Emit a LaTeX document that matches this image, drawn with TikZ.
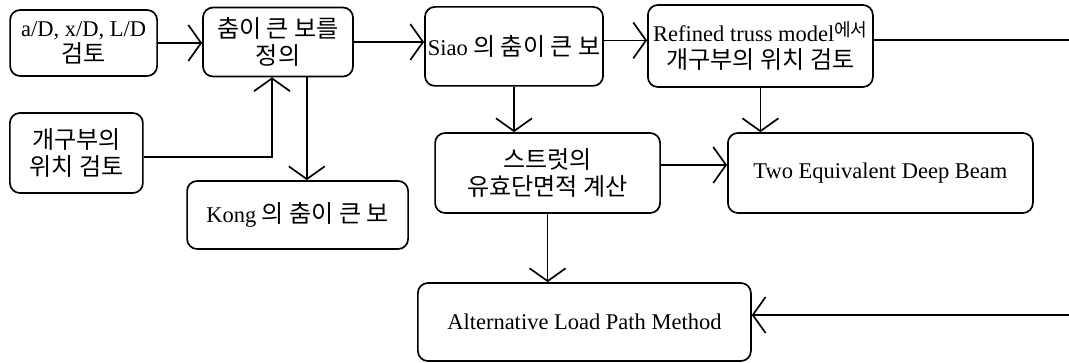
\documentclass[tikz,border=0pt]{standalone}
\usepackage{fontspec}
\setmainfont{Liberation Serif}
\newfontfamily\kr[Scale=1.07]{Noto Sans CJK KR}
\usetikzlibrary{positioning,arrows.meta,calc}
\tikzset{
    stage/.style = {
        draw,
        shape=rectangle,
        rounded corners=0.25cm,
        line width=1.2pt,
        align=center,
        inner sep=2pt,
        font=\fontsize{16}{19}\selectfont
    },
    flow/.style = {
        draw,
        line width=1pt,
        -{Straight Barb[length=3.2mm,width=9mm,line width=1.2pt]}
    },
}

\begin{document}
\begin{tikzpicture}
            \useasboundingbox (0,0) rectangle (26.725,9.05);

            \node[stage, minimum width=3.675cm, minimum height=1.65cm] (ratio) at (2.09,7.975) {a/D, x/D, L/D\\{\kr 검토}};
            \node[stage, minimum width=3.75cm, minimum height=1.725cm] (define) at (6.95,8.0) {{\kr 춤이 큰 보를}\\{\kr 정의}};
            \node[stage, minimum width=3.325cm, minimum height=2cm] (opening) at (1.91,5.225) {{\kr 개구부의}\\{\kr 위치 검토}};
            \node[stage, minimum width=5.525cm, minimum height=1.7cm] (kong) at (7.44,3.675) {Kong {\kr 의 춤이 큰 보}};
            \node[stage, minimum width=3.95cm, minimum height=1.975cm] (siao) at (12.85,7.89) {Siao {\kr 의 춤이 큰 보}};
            \node[stage, minimum width=5.625cm, minimum height=2.05cm] (truss) at (19.01,7.9) {Refined truss model\raisebox{.45ex}{\kr\fontsize{12}{14}\selectfont 에서}\\{\kr 개구부의 위치 검토}};
            \node[stage, minimum width=5.625cm, minimum height=2cm] (strut) at (13.69,4.725) {{\kr 스트럿의}\\{\kr 유효단면적 계산}};
            \node[stage, minimum width=7.625cm, minimum height=2cm] (twobeam) at (22.01,4.725) {Two Equivalent Deep Beam};
            \node[stage, minimum width=8.325cm, minimum height=1.95cm] (altpath) at (14.61,1.0) {Alternative Load Path Method};

            \coordinate (edgetop) at (26.725,8.05);
            \coordinate (edgelow) at (26.725,1.175);

            \path[flow] (ratio.east) -- (ratio.east -| define.west);
            \path[flow] (define.east) -- (define.east -| siao.west);
            \path[flow] ([yshift=0.15cm]siao.east) -- ([yshift=0.15cm]siao.east -| truss.west);
            \path[draw, line width=1pt] (truss.east |- edgetop) -- (edgetop);

            \path[flow] ([yshift=-0.1cm]opening.east) -| ([xshift=-0.15cm]define.south);
            \path[flow] ([xshift=0.72cm]define.south) -- ([xshift=0.72cm]define.south |- kong.north);

            \path[flow] (siao.south) -- (siao.south |- strut.north);
            \path[flow] (truss.south) -- (truss.south |- twobeam.north);
            \path[flow] ([yshift=0.2cm]strut.east) -- ([yshift=0.2cm]strut.east -| twobeam.west);
            \path[flow] (strut.south) -- (strut.south |- altpath.north);

            \path[flow] (edgelow) -- (edgelow -| altpath.east);
\end{tikzpicture}
\end{document}
